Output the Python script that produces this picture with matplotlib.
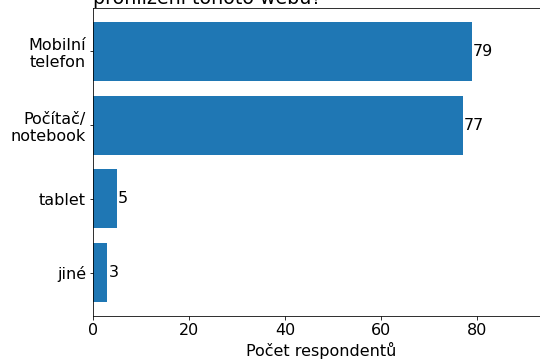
import matplotlib
matplotlib.use('Agg')
import matplotlib.pyplot as plt

categories = ['Mobilní\ntelefon', 'Počítač/\nnotebook', 'tablet', 'jiné']
counts = [79, 77, 5, 3]
title = 'Jaké zařízení nejčastěji používáte pro\nprohlížení tohoto webu?'

W, H = 540, 361
fig = plt.figure(figsize=(W / 72, H / 72), dpi=72)
ax = fig.add_axes([93 / W, 45 / H, (95 * 4.8) / W, 308 / H])

bars = ax.barh(categories, counts, color='#1f77b4', height=0.8)
ax.invert_yaxis()
ax.bar_label(bars, padding=1, fontsize=16)
ax.set_xlim(0, 95)
ax.set_xlabel('Počet respondentů', fontsize=16)
ax.tick_params(labelsize=16)
ax.set_title(title, loc='left', fontsize=19, pad=4)

fig.savefig('out.png', dpi=72)
